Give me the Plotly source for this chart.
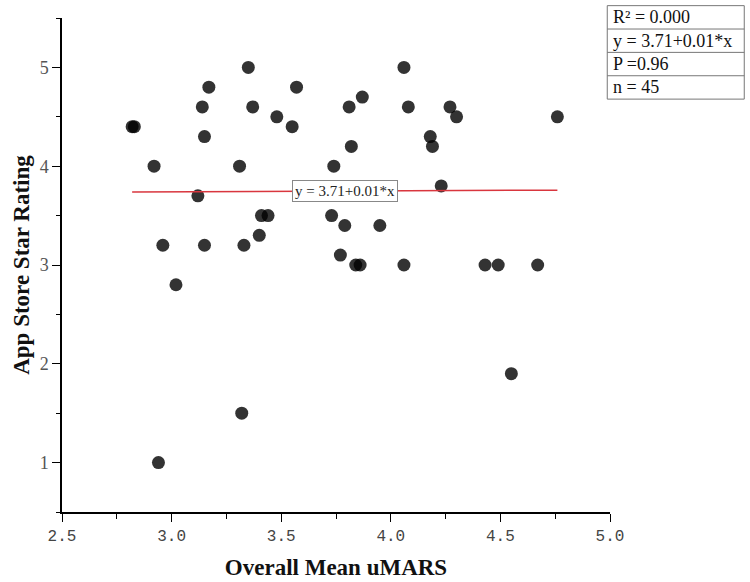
"""
uMARS vs App Store rating scatter
"""

import plotly.graph_objects as go

# overall mean uMARS score per app
umars = [2.82, 2.83, 2.92, 2.94, 2.96, 3.02, 3.12, 3.14, 3.15, 3.15,
         3.17, 3.31, 3.32, 3.33, 3.35, 3.37, 3.40, 3.41, 3.44, 3.48,
         3.55, 3.57, 3.73, 3.74, 3.77, 3.79, 3.81, 3.82, 3.84, 3.86,
         3.87, 3.95, 4.06, 4.06, 4.08, 4.18, 4.19, 4.23, 4.27, 4.30,
         4.43, 4.49, 4.55, 4.67, 4.76]
# app store star rating
stars = [4.4, 4.4, 4.0, 1.0, 3.2, 2.8, 3.7, 4.6, 4.3, 3.2,
         4.8, 4.0, 1.5, 3.2, 5.0, 4.6, 3.3, 3.5, 3.5, 4.5,
         4.4, 4.8, 3.5, 4.0, 3.1, 3.4, 4.6, 4.2, 3.0, 3.0,
         4.7, 3.4, 5.0, 3.0, 4.6, 4.3, 4.2, 3.8, 4.6, 4.5,
         3.0, 3.0, 1.9, 3.0, 4.5]

INTERCEPT = 3.71
SLOPE = 0.01
stats_rows = ["R² = 0.000", "y = 3.71+0.01*x", "P =0.96", "n = 45"]
fit_label = "y = 3.71+0.01*x"

SERIF = "Book Antiqua, Palatino Linotype, Liberation Serif, serif"
TICKFONT = "Liberation Mono, monospace"

fit_x = [min(umars), max(umars)]
fit_y = [INTERCEPT + SLOPE * v for v in fit_x]

fig = go.Figure()
fig.add_trace(go.Scatter(
    x=umars, y=stars, mode="markers",
    marker=dict(size=13, color="rgba(0,0,0,0.8)", line=dict(width=0)),
    showlegend=False, hoverinfo="x+y",
))
fig.add_trace(go.Scatter(
    x=fit_x, y=fit_y, mode="lines",
    line=dict(color="#d9363e", width=1.5),
    showlegend=False, hoverinfo="skip",
))

# label sitting on the fit line
lab_x = 3.79
fig.add_annotation(
    x=lab_x, y=INTERCEPT + SLOPE * lab_x, text=fit_label, showarrow=False,
    font=dict(family=SERIF, size=15, color="#222"),
    bgcolor="#FFFFFF", bordercolor="#888888", borderwidth=1, borderpad=2,
)

# stats table in the right margin
top, row_h = 1.025, 0.0473
left, right = 0.995, 1.245
fig.add_shape(type="rect", xref="paper", yref="paper",
              x0=left, x1=right, y0=top - 4 * row_h, y1=top,
              line=dict(color="#777777", width=1))
for i, txt in enumerate(stats_rows):
    if i > 0:
        fig.add_shape(type="line", xref="paper", yref="paper",
                      x0=left, x1=right, y0=top - i * row_h, y1=top - i * row_h,
                      line=dict(color="#777777", width=1))
    fig.add_annotation(
        xref="paper", yref="paper", x=left + 0.006, y=top - (i + 0.5) * row_h,
        text=txt, showarrow=False, xanchor="left", yanchor="middle",
        font=dict(family=SERIF, size=18, color="#111"),
    )

fig.update_layout(
    width=750, height=582,
    margin=dict(l=62, r=140, t=18, b=70),
    paper_bgcolor="#FFFFFF",
    plot_bgcolor="#FFFFFF",
    font=dict(family=SERIF),
)
fig.update_xaxes(
    range=[2.5, 5.0], dtick=0.5, tick0=0, tickformat=".1f",
    automargin=False,
    showgrid=False, zeroline=False,
    showline=True, linecolor="black", linewidth=1.5,
    ticks="outside", ticklen=8, tickcolor="black",
    tickfont=dict(family=TICKFONT, size=16, color="#444"),
    minor=dict(dtick=0.25, ticks="outside", ticklen=5, tickcolor="black", showgrid=False),
    title=dict(text="<b>Overall Mean uMARS</b>", standoff=14,
               font=dict(family=SERIF, size=23, color="#111")),
)
fig.update_yaxes(
    range=[0.5, 5.5], dtick=1, tick0=0,
    automargin=False,
    showgrid=False, zeroline=False,
    showline=True, linecolor="black", linewidth=1.5,
    ticks="outside", ticklen=8, tickcolor="black",
    tickfont=dict(family=SERIF, size=18, color="#555"),
    minor=dict(dtick=0.5, ticks="outside", ticklen=4, tickcolor="black", showgrid=False),
    title=dict(text="<b>App Store Star Rating</b>", standoff=4,
               font=dict(family=SERIF, size=23, color="#111")),
)

# drop the browser's default page margin so the figure sits at the window corner
fig.write_html("out.html", config={"displayModeBar": False},
               post_script="document.body.style.margin='0';")
